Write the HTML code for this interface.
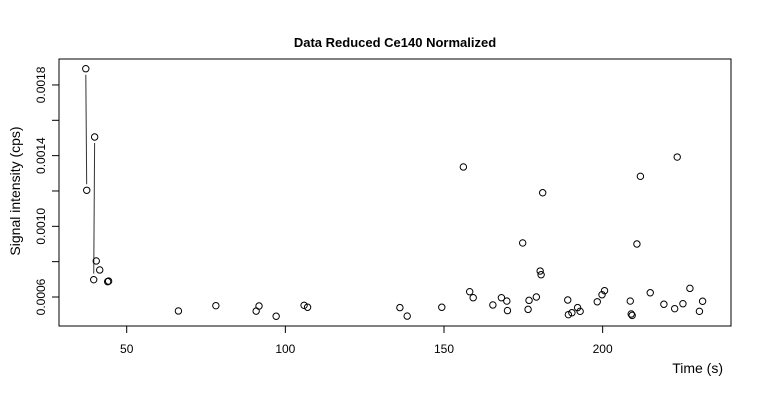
<!DOCTYPE html>
<html><head><meta charset="utf-8"><style>
html,body{margin:0;padding:0;background:#fff;}
svg{display:block;font-family:"Liberation Sans",Arial,sans-serif;}
</style></head><body>
<svg id="chart" width="760" height="400" viewBox="0 0 760 400">
<rect width="760" height="400" fill="#fff"/>
<text x="395" y="47" text-anchor="middle" font-size="13" font-weight="bold">Data Reduced Ce140 Normalized</text>
<text transform="translate(20,191) rotate(-90)" text-anchor="middle" font-size="14">Signal intensity (cps)</text>
<text x="723" y="373" text-anchor="end" font-size="14">Time (s)</text>
<rect x="59" y="59" width="672" height="267" fill="none" stroke="#000" stroke-width="1"/>
<g id="xaxis"></g>
<g id="yaxis"></g>
<g id="segs"></g>
<g id="pts"></g>
</svg>
<script>
const times = [37.1,37.4,39.9,40.4,41.5,39.6,44.0,44.3,66.3,78.1,90.8,91.7,97.1,105.9,107.0,136.1,138.4,149.3,156.1,158.1,159.2,165.4,168.1,169.8,170.0,174.8,176.8,176.5,179.1,180.3,180.6,181.1,189.0,189.2,190.3,192.1,192.9,198.3,199.8,200.6,208.7,209.0,209.3,210.8,211.9,215.0,219.3,222.7,223.5,225.3,227.5,230.5,231.5];
const signal = [0.001892,0.001204,0.0015055,0.000804,0.000753,0.000698,0.000687,0.00069,0.000521,0.000551,0.00052,0.000549,0.000491,0.000553,0.000542,0.00054,0.000492,0.000542,0.001336,0.00063,0.000596,0.000555,0.000596,0.000577,0.000523,0.000906,0.000581,0.00053,0.0006,0.000747,0.000726,0.00119,0.000583,0.0005,0.000511,0.00054,0.000519,0.000573,0.000613,0.000636,0.000577,0.000504,0.000496,0.0009,0.001283,0.000624,0.000559,0.000534,0.001392,0.000562,0.000649,0.000519,0.000576];
const segFrom = [0,2];
const segTo = [1,5];
const xTicks = [50,100,150,200];
const yTicks = [0.0006,0.0008,0.0010,0.0012,0.0014,0.0016,0.0018];
const yTickLabels = ["0.0006","","0.0010","","0.0014","","0.0018"];

const NS="http://www.w3.org/2000/svg";
function xs(t){return 126.7+(t-50)*3.173;}
function ys(v){return 297-(v-0.0006)*176700;}
function mk(tag,attrs,parent){const e=document.createElementNS(NS,tag);for(const k in attrs)e.setAttribute(k,attrs[k]);parent.appendChild(e);return e;}

const xa=document.getElementById('xaxis');
mk('line',{x1:xs(xTicks[0]),x2:xs(xTicks[xTicks.length-1]),y1:326,y2:326,stroke:'#000'},xa);
xTicks.forEach(t=>{
  const l=mk('line',{x1:xs(t),x2:xs(t),y1:326,y2:333,stroke:'#000'},xa);
  
  
  const tx=mk('text',{x:xs(t),y:353,'text-anchor':'middle','font-size':12},xa);
  tx.textContent=String(t);
  
  
});
const ya=document.getElementById('yaxis');
mk('line',{x1:59,x2:59,y1:ys(yTicks[0]),y2:ys(yTicks[yTicks.length-1]),stroke:'#000'},ya);
yTicks.forEach((v,i)=>{
  const l=mk('line',{x1:52,x2:59,y1:ys(v),y2:ys(v),stroke:'#000'},ya);
  
  
  if(yTickLabels[i]){
    const tx=mk('text',{transform:`translate(45,${ys(v)}) rotate(-90)`,'text-anchor':'middle','font-size':12},ya);
    tx.textContent=yTickLabels[i];
    
    
  }
});
const sg=document.getElementById('segs');
segFrom.forEach((a,i)=>{
  const b=segTo[i];
  const x1=xs(times[a]),y1=ys(signal[a]),x2=xs(times[b]),y2=ys(signal[b]);
  const dx=x2-x1,dy=y2-y1,len=Math.hypot(dx,dy),g=6/len;
  const l=mk('line',{x1:x1+dx*g,y1:y1+dy*g,x2:x2-dx*g,y2:y2-dy*g,stroke:'#333','stroke-width':1},sg);
  
  
});
const pg=document.getElementById('pts');
times.forEach((t,i)=>{
  const c=mk('circle',{cx:xs(t),cy:ys(signal[i]),r:3.2,fill:'none',stroke:'#000','stroke-width':1},pg);
  
  
});
</script>
</body></html>
